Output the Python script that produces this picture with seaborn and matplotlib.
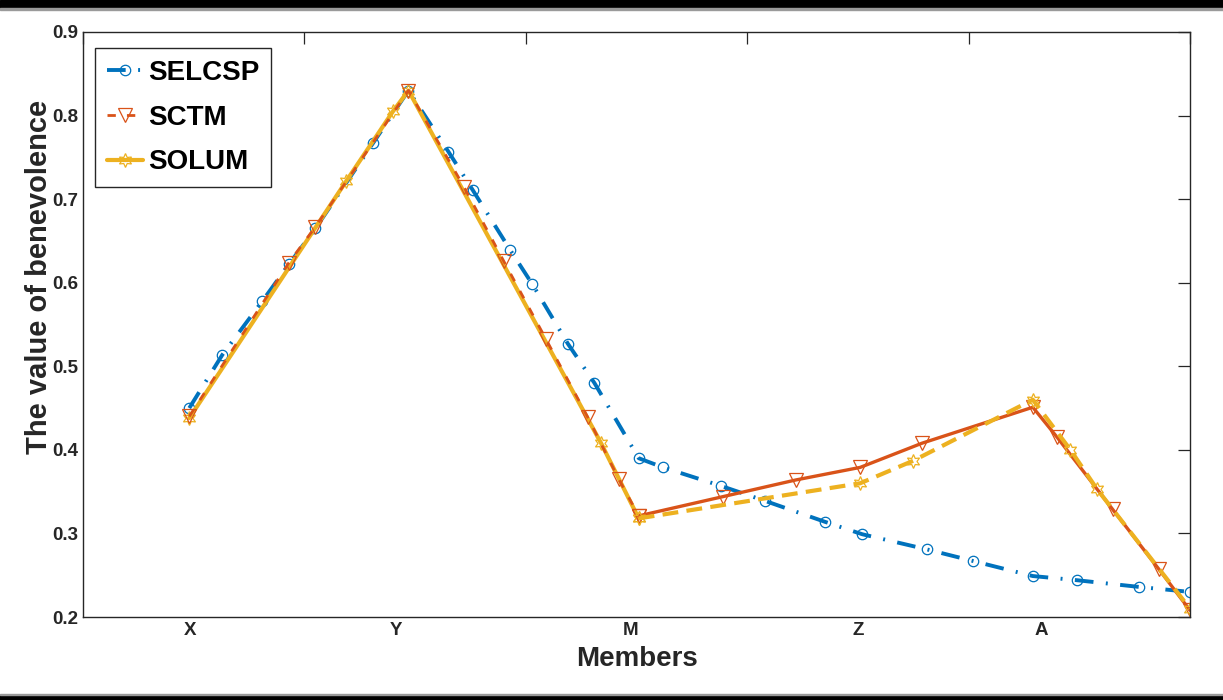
import numpy as np
import pandas as pd
import matplotlib
matplotlib.use("Agg")
import matplotlib.pyplot as plt
import seaborn as sns
from matplotlib.patches import Rectangle
from matplotlib.ticker import FixedLocator, NullFormatter, FixedFormatter, FormatStrFormatter

# ---------------- data ----------------
members = ["X", "Y", "M", "Z", "A"]
member_pos = [0.485, 1.414, 2.475, 3.503, 4.327]

selcsp_x = [0.48, 0.63, 0.81, 0.93, 1.05, 1.31, 1.47, 1.65, 1.76, 1.93, 2.03, 2.19, 2.31,
            2.51, 2.62, 2.88, 3.08, 3.35, 3.52, 3.81, 4.02, 4.29, 4.49, 4.77, 5.00]
selcsp_y = [0.450, 0.514, 0.578, 0.622, 0.665, 0.767, 0.830, 0.757, 0.711, 0.639, 0.598, 0.527, 0.480,
            0.390, 0.379, 0.357, 0.339, 0.314, 0.299, 0.281, 0.267, 0.249, 0.244, 0.236, 0.230]

sctm_x = [0.48, 0.93, 1.05, 1.47, 1.72, 1.90, 2.09, 2.28, 2.42, 2.51,
          2.89, 3.22, 3.51, 3.79, 4.29, 4.40, 4.65, 4.86, 5.00]
sctm_y = [0.440, 0.624, 0.667, 0.830, 0.715, 0.626, 0.533, 0.439, 0.365, 0.321,
          0.344, 0.364, 0.379, 0.408, 0.451, 0.415, 0.329, 0.257, 0.208]

solum_x = [0.48, 1.19, 1.40, 1.47, 2.34, 2.51, 3.51, 3.75, 4.29, 4.46, 4.58, 5.00]
solum_y = [0.438, 0.722, 0.805, 0.830, 0.408, 0.318, 0.360, 0.387, 0.460, 0.400, 0.353, 0.210]

series_names = ["SELCSP", "SCTM", "SOLUM"]
yticks = [0.2, 0.3, 0.4, 0.5, 0.6, 0.7, 0.8, 0.9]

# index of the point "M" where the line styles switch
sctm_break = 9
solum_break = 5

# ---------------- style ----------------
sns.set_style("white")
plt.rcParams["font.family"] = ["Liberation Sans", "DejaVu Sans"]
plt.rcParams["font.weight"] = "bold"

BLUE = "#0072BD"
ORANGE = "#D95319"
YELLOW = "#EDB120"
AXC = "#262626"

W, H = 1223, 700
fig = plt.figure(figsize=(W / 100, H / 100), dpi=100)
fig.patch.set_facecolor("white")
ax = fig.add_axes([83 / W, 1 - 617 / H, 1107 / W, 585 / H])

# framing bars of the original screenshot
fig.patches.append(Rectangle((0, 1 - 8 / H), 1, 8 / H, transform=fig.transFigure, color="black", zorder=0))
fig.patches.append(Rectangle((0, 1 - 10 / H), 1, 2 / H, transform=fig.transFigure, color="#9a9a9a", zorder=0))
fig.patches.append(Rectangle((0, 0), 1, 5 / H, transform=fig.transFigure, color="black", zorder=0))
fig.patches.append(Rectangle((0, 5 / H), 1, 1.5 / H, transform=fig.transFigure, color="#9a9a9a", zorder=0))


def df(x, y):
    return pd.DataFrame({"x": x, "y": y})


common = dict(ax=ax, sort=False, estimator=None, legend=False)

# SELCSP: dash-dot with hollow circles
sns.lineplot(data=df(selcsp_x, selcsp_y), x="x", y="y", color=BLUE, lw=2.8,
             linestyle=(0, (4.8, 3.2, 0.5, 3.2)), marker="o", markersize=7.5,
             markerfacecolor="none", markeredgecolor=BLUE, markeredgewidth=0.9, **common)
h_selcsp = ax.lines[-1]

# SOLUM first part (solid)
sns.lineplot(data=df(solum_x[:solum_break + 1], solum_y[:solum_break + 1]), x="x", y="y",
             color=YELLOW, lw=3.0, linestyle="-", marker=(6, 1, 0), markersize=10,
             markerfacecolor="none", markeredgecolor=YELLOW, markeredgewidth=0.9, **common)
h_solum = ax.lines[-1]

# SCTM first part (dashed)
sns.lineplot(data=df(sctm_x[:sctm_break + 1], sctm_y[:sctm_break + 1]), x="x", y="y",
             color=ORANGE, lw=2.0, linestyle=(0, (3.0, 4.0)), marker="v", markersize=9.5,
             markerfacecolor="none", markeredgecolor=ORANGE, markeredgewidth=0.9, **common)
h_sctm = ax.lines[-1]

# SCTM second part (solid)
sns.lineplot(data=df(sctm_x[sctm_break:], sctm_y[sctm_break:]), x="x", y="y",
             color=ORANGE, lw=2.4, linestyle="-", marker="v", markersize=9.5,
             markerfacecolor="none", markeredgecolor=ORANGE, markeredgewidth=0.9, **common)

# SOLUM second part (dashed)
sns.lineplot(data=df(solum_x[solum_break:], solum_y[solum_break:]), x="x", y="y",
             color=YELLOW, lw=3.0, linestyle=(0, (3.8, 2.0)), marker=(6, 1, 0), markersize=10,
             markerfacecolor="none", markeredgecolor=YELLOW, markeredgewidth=0.9, **common)

# ---------------- axes ----------------
ax.set_xlim(0, 5)
ax.set_ylim(0.2, 0.9)
ax.xaxis.set_major_locator(FixedLocator([0, 1, 2, 3, 4, 5]))
ax.xaxis.set_major_formatter(NullFormatter())
ax.xaxis.set_minor_locator(FixedLocator(member_pos))
ax.xaxis.set_minor_formatter(FixedFormatter(members))
ax.yaxis.set_major_locator(FixedLocator(yticks))
ax.yaxis.set_major_formatter(FormatStrFormatter("%.1f"))
ax.yaxis.set_minor_locator(FixedLocator([]))

ax.tick_params(axis="both", which="major", direction="in", length=8.6, width=0.9,
               top=True, right=True, color=AXC, labelcolor=AXC, labelsize=13.5, pad=3.6)
ax.tick_params(axis="x", which="minor", length=0, top=False, bottom=True,
               labelsize=13.5, labelcolor=AXC, pad=3.5)
for lab in ax.get_xticklabels(minor=True) + ax.get_yticklabels():
    lab.set_fontweight("bold")

for s in ax.spines.values():
    s.set_visible(True)
    s.set_color(AXC)
    s.set_linewidth(1.0)

ax.grid(False)
ax.set_xlabel("Members", fontsize=20, fontweight="bold", color=AXC)
ax.set_ylabel("The value of benevolence", fontsize=21, fontweight="bold", color=AXC)
ax.xaxis.set_label_coords(0.5005, -0.0496)
ax.yaxis.set_label_coords(-0.027, 0.581)

leg = ax.legend([h_selcsp, h_sctm, h_solum], series_names, loc="upper left",
                bbox_to_anchor=(95 / W, 1 - 48 / H), bbox_transform=fig.transFigure,
                borderaxespad=0, prop={"weight": "bold", "size": 20}, frameon=True,
                fancybox=False, framealpha=1, edgecolor=AXC, borderpad=0.42,
                handlelength=1.3, handletextpad=0.2, labelspacing=0.68, numpoints=1,
                labelcolor="black")
leg.get_frame().set_linewidth(1.0)

fig.savefig("out.png", dpi=100, facecolor="white")
